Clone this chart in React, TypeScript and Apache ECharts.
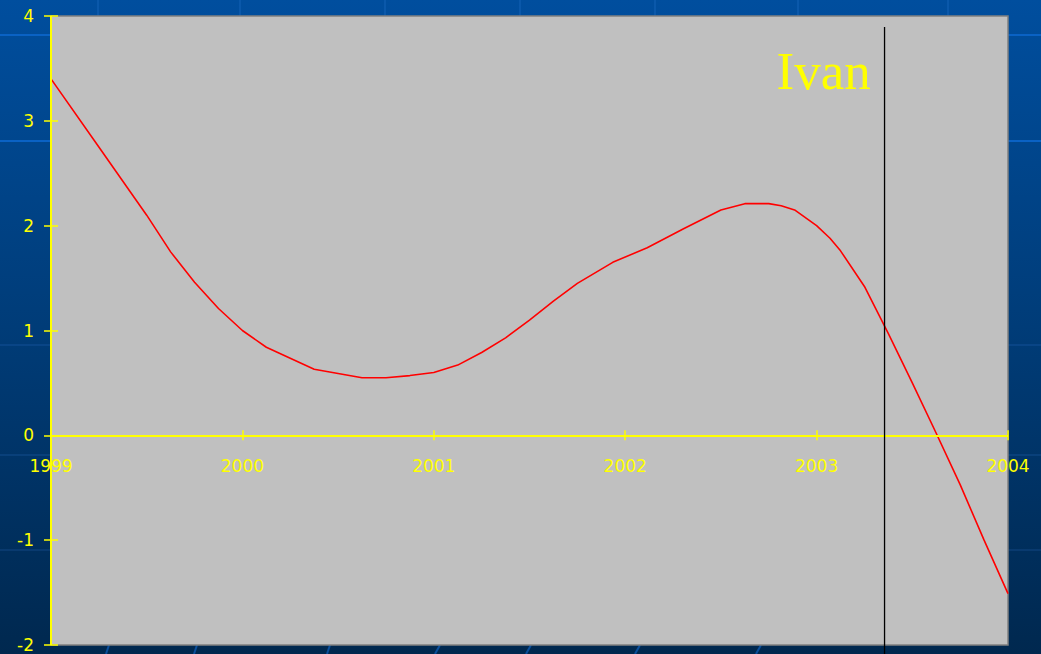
import React, { useEffect, useRef } from "react";
import * as echarts from "echarts";

// ---- data ----
const years = [
  1999.0, 1999.25, 1999.5, 1999.625, 1999.75, 1999.875, 2000.0, 2000.125, 2000.375,
  2000.625, 2000.75, 2000.875, 2001.0, 2001.125, 2001.25, 2001.375, 2001.5, 2001.625,
  2001.75, 2001.935, 2002.115, 2002.305, 2002.5, 2002.625, 2002.75, 2002.815, 2002.885,
  2003.0, 2003.07, 2003.125, 2003.25, 2003.375, 2003.5, 2003.625, 2003.75, 2003.875, 2004.0,
];
const values = [
  3.4, 2.75, 2.1, 1.75, 1.46, 1.21, 1.0, 0.84, 0.63,
  0.55, 0.55, 0.57, 0.6, 0.67, 0.79, 0.93, 1.1, 1.28,
  1.45, 1.65, 1.79, 1.97, 2.15, 2.21, 2.21, 2.19, 2.15,
  2.0, 1.88, 1.76, 1.42, 0.97, 0.5, 0.02, -0.47, -1.0, -1.51,
];
const xTickLabels = ["1999", "2000", "2001", "2002", "2003", "2004"];
const yTickLabels = ["-2", "-1", "0", "1", "2", "3", "4"];
const ivanYear = 2003.355;
const ivanTop = 3.895;
const ivanLabel = "Ivan";

const X_MIN = 1999, X_MAX = 2004, Y_MIN = -2, Y_MAX = 4;
const W = 1041, H = 654;
const GRID = { left: 51, right: 33, top: 16, bottom: 9 };
const YELLOW = "#FFFF00";

export default function App() {
  const ref = useRef<HTMLDivElement>(null);
  useEffect(() => {
    if (!ref.current) return;
    const chart = echarts.init(ref.current, undefined, { renderer: "svg" });
    const plotH = H - GRID.top - GRID.bottom;
    const zeroFromBottom = ((0 - Y_MIN) / (Y_MAX - Y_MIN)) * plotH;
    const xOffset = -(zeroFromBottom + 5);

    const bgLines: any[] = [];
    const hLines = [
      { y: 35, c: "#0a62c4", w: 2 },
      { y: 141, c: "#0a62c4", w: 2 },
      { y: 345, c: "#0c4a8c", w: 1.5 },
      { y: 455, c: "#0c4580", w: 1.5 },
      { y: 550, c: "#0c3f76", w: 1.5 },
    ];
    hLines.forEach((l) =>
      bgLines.push({ type: "line", z: -1, silent: true, shape: { x1: 0, y1: l.y, x2: W, y2: l.y }, style: { stroke: l.c, lineWidth: l.w } })
    );
    [98, 240, 385, 520, 655, 798, 948].forEach((x) =>
      bgLines.push({ type: "line", z: -1, silent: true, shape: { x1: x, y1: 0, x2: x, y2: 20 }, style: { stroke: "#0a58aa", lineWidth: 2 } })
    );
    [107, 195, 328, 437, 528, 637, 758].forEach((x, i) =>
      bgLines.push({ type: "line", z: -1, silent: true, shape: { x1: x + (i < 3 ? 2 : 3), y1: 645, x2: x - (i < 3 ? 1 : 2), y2: H }, style: { stroke: "#0a4f9c", lineWidth: 2 } })
    );

    const option: any = {
      animation: false,
      backgroundColor: new echarts.graphic.LinearGradient(0, 0, 0, 1, [
        { offset: 0, color: "#004E9E" },
        { offset: 0.5, color: "#003C78" },
        { offset: 1, color: "#00284F" },
      ]),
      grid: {
        ...GRID,
        show: true,
        backgroundColor: "#C0C0C0",
        borderColor: "#808080",
        borderWidth: 1.5,
        containLabel: false,
        outerBoundsMode: "none",
      },
      xAxis: {
        type: "value",
        min: X_MIN,
        max: X_MAX,
        interval: 1,
        position: "bottom",
        offset: xOffset,
        axisLine: { show: false, onZero: false },
        axisTick: { show: true, length: 10, lineStyle: { color: YELLOW, width: 1.5 } },
        axisLabel: {
          color: YELLOW,
          fontFamily: "DejaVu Sans",
          fontSize: 17,
          margin: 27,
          showMinLabel: true,
          showMaxLabel: true,
          formatter: (v: number) => xTickLabels[Math.round(v - X_MIN)] ?? String(v),
        },
        splitLine: { show: false },
      },
      yAxis: {
        type: "value",
        min: Y_MIN,
        max: Y_MAX,
        interval: 1,
        position: "left",
        offset: -7,
        axisLine: { show: false },
        axisTick: { show: true, length: 14, lineStyle: { color: YELLOW, width: 1.5 } },
        axisLabel: {
          color: YELLOW,
          fontFamily: "DejaVu Sans",
          fontSize: 17,
          margin: 24,
          formatter: (v: number) => yTickLabels[Math.round(v - Y_MIN)] ?? String(v),
        },
        splitLine: { show: false },
      },
      series: [
        {
          type: "line",
          data: years.map((y, i) => [y, values[i]]),
          symbol: "none",
          showSymbol: false,
          lineStyle: { color: "#FF0000", width: 1.6 },
          z: 3,
          markLine: {
            silent: true,
            symbol: "none",
            animation: false,
            label: { show: false },
            lineStyle: { color: YELLOW, width: 2, type: "solid" },
            data: [{ xAxis: X_MIN }, { yAxis: 0 }],
          },
        },
      ],
      graphic: bgLines,
    };
    chart.setOption(option);

    const px = chart.convertToPixel({ xAxisIndex: 0 }, ivanYear) as number;
    const pyTop = chart.convertToPixel({ yAxisIndex: 0 }, ivanTop) as number;
    chart.setOption({
      graphic: [
        ...bgLines,
        {
          type: "line",
          z: 10,
          silent: true,
          shape: { x1: px, y1: pyTop, x2: px, y2: H },
          style: { stroke: "#000000", lineWidth: 1.3 },
        },
        {
          type: "text",
          z: 10,
          silent: true,
          x: px - 108,
          y: 71,
          style: {
            text: ivanLabel,
            fill: YELLOW,
            font: '53px "Liberation Serif"',
            align: "left",
            verticalAlign: "middle",
          },
        },
      ],
    });

    return () => chart.dispose();
  }, []);
  return (
    <div
      ref={ref}
      style={{ position: "fixed", left: 0, top: 0, width: W, height: H }}
    />
  );
}
